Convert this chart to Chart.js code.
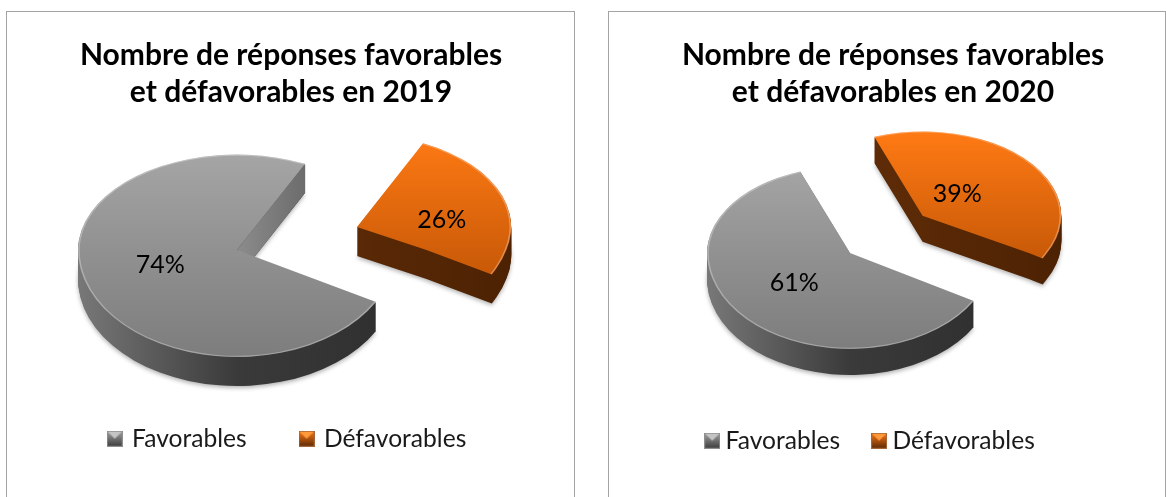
<!DOCTYPE html>
<html>
<head>
<meta charset="utf-8">
<title>Réponses favorables et défavorables</title>
<script src="https://cdn.jsdelivr.net/npm/chart.js@4"></script>
<style>
  html, body { margin: 0; background: #fff; overflow: hidden; width: 1166px; height: 497px; }
  .frame { position: absolute; top: 11px; height: 520px; border: 1px solid #a3a3a3; box-sizing: border-box; }
  canvas { position: absolute; top: 12px; }
</style>
</head>
<body>
<div class="frame" style="left:6px;width:569px"></div>
<div class="frame" style="left:608px;width:558px"></div>
<canvas id="chart2019" width="568" height="485" style="left:7px"></canvas>
<canvas id="chart2020" width="546" height="485" style="left:620px"></canvas>
<script>
// donnees
const categories = ['Favorables', 'Défavorables'];
const values2019 = [74, 26];
const values2020 = [61, 39];
const title2019 = ['Nombre de réponses favorables', 'et défavorables en 2019'];
const title2020 = ['Nombre de réponses favorables', 'et défavorables en 2020'];

// couleurs
const faceStops = [['#a5a5a5', '#7d7d7d'], ['#ff7a14', '#c65807']];
const wallStops = [['#787878', '#3a3a3a', '#2f2f2f'], ['#642f08', '#5a2906', '#4c2203']];
const FONT = 'Lato, Carlito, sans-serif';

// petit carre de legende avec biseau
function makeSwatch(i) {
  const c = document.createElement('canvas');
  c.width = 16; c.height = 16;
  const g = c.getContext('2d');
  const grad = g.createLinearGradient(0, 0, 0, 16);
  grad.addColorStop(0, faceStops[i][0]);
  grad.addColorStop(1, wallStops[i][1]);
  g.fillStyle = grad;
  g.fillRect(0, 0, 16, 16);
  g.fillStyle = i === 0 ? '#c4c4c4' : '#ff9a3c';
  g.beginPath();
  g.moveTo(1, 1); g.lineTo(15, 1); g.lineTo(8, 8);
  g.closePath();
  g.fill();
  g.strokeStyle = i === 0 ? '#8f8f8f' : '#a5673a';
  g.strokeRect(0.5, 0.5, 15, 15);
  return c;
}
const swatches = [makeSwatch(0), makeSwatch(1)];

// camembert "3D" : ellipse + epaisseur, dessine a partir des arcs calcules par Chart.js
const pie3d = {
  id: 'pie3d',
  afterLayout(chart, args, opts) {
    const lg = chart.legend;
    lg.left += opts.legendShift[0];
    lg.right += opts.legendShift[0];
    lg.top += opts.legendShift[1];
    lg.bottom += opts.legendShift[1];
  },
  beforeDatasetsDraw(chart, args, opts) {
    const ctx = chart.ctx;
    const arcs = chart.getDatasetMeta(0).data;
    const [cx, cy] = opts.center;

    // haut et bas de l'ellipse n'ont pas le meme ecrasement (perspective)
    function tilted(d, paint) {
      [[0, cy + d, opts.kTop], [cy + d, chart.height, opts.kBottom]].forEach(function (z) {
        ctx.save();
        ctx.beginPath();
        ctx.rect(0, z[0], chart.width, z[1] - z[0]);
        ctx.clip();
        ctx.translate(cx, cy + d);
        ctx.scale(1, z[2]);
        ctx.translate(-arcs[0].x, -arcs[0].y);
        paint();
        ctx.restore();
      });
    }
    function toPage(x, y) {
      const dy = y - arcs[0].y;
      return [cx + x - arcs[0].x, cy + dy * (dy < 0 ? opts.kTop : opts.kBottom)];
    }
    function slicePath(a, ox, oy, R) {
      ctx.beginPath();
      ctx.moveTo(a.x + ox, a.y + oy);
      ctx.arc(a.x + ox, a.y + oy, R, a.startAngle, a.endAngle);
      ctx.closePath();
    }

    arcs.forEach(function (a, i) {
      const mid = (a.startAngle + a.endAngle) / 2;
      const off = a.options.offset;
      const ox = Math.cos(mid) * off;
      const oy = Math.sin(mid) * off;
      // la part detachee parait un peu plus petite dans l'original
      const R = a.outerRadius * (i === 1 ? 0.97 : 1);

      // epaisseur
      const wall = ctx.createLinearGradient(a.x + ox - R, 0, a.x + ox + R, 0);
      wall.addColorStop(0, wallStops[i][0]);
      wall.addColorStop(0.5, wallStops[i][1]);
      wall.addColorStop(1, wallStops[i][2]);
      for (let d = opts.depth; d >= 1; d--) {
        tilted(d, function () {
          if (d === opts.depth) {
            ctx.shadowColor = 'rgba(0,0,0,0.3)';
            ctx.shadowBlur = 4;
            ctx.shadowOffsetY = 2;
          }
          ctx.fillStyle = wall;
          slicePath(a, ox, oy, R);
          ctx.fill();
        });
      }

      // coupe visible de la part grise
      if (i === 0) {
        const p0 = toPage(a.x, a.y);
        const p1 = toPage(a.x + Math.cos(a.endAngle) * R, a.y + Math.sin(a.endAngle) * R);
        const cut = ctx.createLinearGradient(p0[0], 0, p1[0], 0);
        cut.addColorStop(0, '#8c8c8c');
        cut.addColorStop(1, '#6c6c6c');
        ctx.fillStyle = cut;
        ctx.beginPath();
        ctx.moveTo(p0[0], p0[1]);
        ctx.lineTo(p1[0], p1[1]);
        ctx.lineTo(p1[0], p1[1] + opts.depth);
        ctx.lineTo(p0[0], p0[1] + opts.depth);
        ctx.closePath();
        ctx.fill();
      }

      // dessus
      tilted(0, function () {
        const face = ctx.createLinearGradient(0, a.y + oy - R, 0, a.y + oy + (i === 0 ? R : R * 0.55));
        face.addColorStop(0, faceStops[i][0]);
        face.addColorStop(1, faceStops[i][1]);
        ctx.fillStyle = face;
        slicePath(a, ox, oy, R);
        ctx.fill();
        ctx.strokeStyle = 'rgba(255,255,255,0.3)';
        ctx.lineWidth = 1.5;
        ctx.beginPath();
        ctx.arc(a.x + ox, a.y + oy, R - 1, a.startAngle, a.endAngle);
        ctx.stroke();
      });

      // etiquette
      const r = a.outerRadius / 2 + off;
      const p = toPage(a.x + Math.cos(mid) * r, a.y + Math.sin(mid) * r);
      ctx.save();
      ctx.fillStyle = '#000';
      ctx.font = '25px ' + FONT;
      ctx.textAlign = 'center';
      ctx.textBaseline = 'middle';
      ctx.fillText(chart.data.datasets[0].data[i] + '%', p[0] + opts.labelNudge[i][0], p[1] + opts.labelNudge[i][1]);
      ctx.restore();
    });
    return false;
  }
};

function makeChart(id, title, values, pie, legendGap, legendBox) {
  return new Chart(document.getElementById(id), {
    type: 'pie',
    data: {
      labels: categories,
      datasets: [{
        data: values,
        backgroundColor: ['#8c8c8c', '#e56b10'],
        borderWidth: 0,
        radius: pie.radius,
        rotation: pie.rotation,
        offset: pie.offset
      }]
    },
    options: {
      responsive: false,
      animation: false,
      plugins: {
        title: {
          display: true,
          text: title,
          color: '#000',
          font: { family: FONT, size: 30, weight: 'bold', lineHeight: 37 / 30 },
          padding: { top: 25, bottom: 10 }
        },
        legend: {
          position: 'bottom',
          labels: {
            color: '#1a1a1a',
            font: { family: FONT, size: 24.6 },
            usePointStyle: true,
            pointStyleWidth: legendBox,
            boxHeight: 13,
            padding: legendGap,
            generateLabels: function (chart) {
              return chart.data.labels.map(function (t, i) {
                return { text: t, pointStyle: swatches[i], fontColor: '#1a1a1a', index: i };
              });
            }
          }
        },
        tooltip: { enabled: false },
        pie3d: pie.draw
      }
    },
    plugins: [pie3d]
  });
}

makeChart('chart2019', title2019, values2019, {
  radius: 159, rotation: 119, offset: [0, 126],
  draw: { center: [230, 238], kTop: 0.6, kBottom: 0.673, depth: 29,
          labelNudge: [[-1, -1], [9, 8]], legendShift: [-3, -36] }
}, 55, 10);

makeChart('chart2020', title2020, values2020, {
  radius: 143, rotation: 120, offset: [0, 95],
  draw: { center: [230, 241], kTop: 0.608, kBottom: 0.671, depth: 26,
          labelNudge: [[-1, -1], [-20, 6]], legendShift: [-20, -34] }
}, 38, 2);
</script>
</body>
</html>
